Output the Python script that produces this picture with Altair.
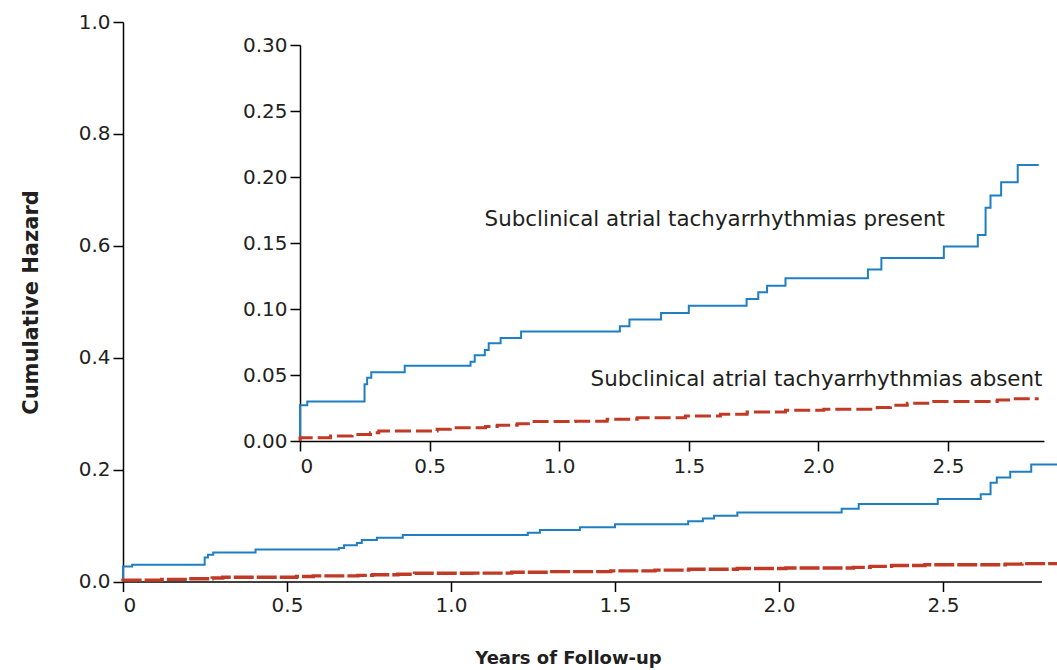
import altair as alt
import pandas as pd

# Cumulative hazard step curves (years of follow-up, cumulative hazard)
present_t = [0, 0, 0.028, 0.249, 0.259, 0.275, 0.404, 0.658, 0.674, 0.713, 0.728,
             0.774, 0.853, 1.234, 1.271, 1.393, 1.50, 1.723, 1.768, 1.802, 1.873,
             2.191, 2.243, 2.484, 2.615, 2.645, 2.664, 2.705, 2.769, 2.85]
present_h = [0, 0.027, 0.030, 0.043, 0.048, 0.052, 0.057, 0.060, 0.065, 0.069, 0.074,
             0.078, 0.083, 0.087, 0.092, 0.097, 0.1025, 0.1076, 0.1127, 0.1177, 0.1233,
             0.130, 0.1387, 0.1473, 0.156, 0.1767, 0.186, 0.196, 0.209, 0.209]

absent_t = [0, 0, 0.118, 0.201, 0.272, 0.304, 0.529, 0.58, 0.716, 0.761, 0.838,
            0.889, 1.063, 1.185, 1.301, 1.487, 1.622, 1.725, 1.873, 2.021, 2.227,
            2.278, 2.343, 2.445, 2.69, 2.741, 2.85]
absent_h = [0, 0.0025, 0.0038, 0.005, 0.0063, 0.0076, 0.0089, 0.0101, 0.011, 0.012, 0.013,
            0.0147, 0.015, 0.0165, 0.0177, 0.019, 0.0203, 0.022, 0.0233, 0.024, 0.0253,
            0.027, 0.0286, 0.0299, 0.031, 0.032, 0.032]

main_y_ticks = [0, 0.2, 0.4, 0.6, 0.8, 1.0]
inset_y_ticks = [0, 0.05, 0.10, 0.15, 0.20, 0.25, 0.30]
x_ticks = [0, 0.5, 1.0, 1.5, 2.0, 2.5]

label_present = "Subclinical atrial tachyarrhythmias present"
label_absent = "Subclinical atrial tachyarrhythmias absent"

BLUE = "#1f7fc2"
RED = "#c13a26"
FONT = "DejaVu Sans"
TEXT = "#231f20"

present = pd.DataFrame({"t": present_t, "h": present_h, "i": range(len(present_t))})
absent = pd.DataFrame({"t": absent_t, "h": absent_h, "i": range(len(absent_t))})

W, H = 918.4, 559.5

x_lab = "datum.value == 0 ? '0' : format(datum.value, '.1f')"

# main panel scales
main_xs = alt.Scale(domain=[0, 2.80], nice=False, zero=False)
main_ys = alt.Scale(domain=[0, 1.0], nice=False)
# inset panel scales, placed inside the main plot area
inset_xs = alt.Scale(domain=[0, 2.87], range=[177, 920.9], nice=False, zero=False)
inset_ys = alt.Scale(domain=[0, 0.30], range=[419, 23], nice=False)

axis_style = dict(domainColor="black", domainWidth=1.5, tickColor="black", tickWidth=1.5,
                  tickSize=10, labelFont=FONT, labelFontSize=20, labelColor=TEXT, grid=False)

main_x_axis = alt.Axis(orient="bottom", values=x_ticks, labelExpr=x_lab, labelPadding=4,
                       title="Years of Follow-up", titleFont=FONT, titleFontSize=18,
                       titleFontWeight="bold", titleColor=TEXT, titleX=445, titleY=81.5,
                       titleBaseline="alphabetic", **axis_style)
main_y_axis = alt.Axis(orient="left", values=main_y_ticks, format=".1f", labelPadding=3,
                       title="Cumulative Hazard", titleFont=FONT, titleFontSize=21,
                       titleFontWeight="bold", titleColor=TEXT, titleX=-86, titleY=280,
                       titleBaseline="alphabetic", **axis_style)
inset_x_axis = alt.Axis(orient="bottom", values=x_ticks, labelExpr=x_lab, labelPadding=5,
                        offset=-140.5, title=None, **axis_style)
inset_y_axis = alt.Axis(orient="left", values=inset_y_ticks, format=".2f", labelPadding=3,
                        offset=-177, title=None, **axis_style)


def curve(df, xs, ys, color, width, dash=None, xaxis=None, yaxis=None):
    kw = dict(interpolate="step-after", color=color, strokeWidth=width)
    if dash:
        kw["strokeDash"] = dash
    return alt.Chart(df).mark_line(**kw).encode(
        x=alt.X("t:Q", scale=xs, axis=xaxis),
        y=alt.Y("h:Q", scale=ys, axis=yaxis),
        order="i:Q",
    )


def label(text, t, h):
    df = pd.DataFrame({"t": [t], "h": [h], "s": [text]})
    return alt.Chart(df).mark_text(align="left", baseline="middle", font=FONT,
                                   fontSize=21.4, color=TEXT).encode(
        x=alt.X("t:Q", scale=inset_xs, axis=None),
        y=alt.Y("h:Q", scale=inset_ys, axis=None),
        text="s:N",
    )


layers = [
    curve(present, main_xs, main_ys, BLUE, 2, xaxis=main_x_axis, yaxis=main_y_axis),
    curve(absent, main_xs, main_ys, RED, 3.4, dash=[20, 3]),
    curve(present, inset_xs, inset_ys, BLUE, 2, xaxis=inset_x_axis, yaxis=inset_y_axis),
    curve(absent, inset_xs, inset_ys, RED, 3, dash=[16, 5]),
    label(label_present, 0.712, 0.1674),
    label(label_absent, 1.121, 0.0462),
]

chart = alt.layer(*layers).resolve_scale(x="independent", y="independent").properties(
    width=W, height=H,
    autosize=alt.AutoSizeParams(type="none"),
    padding={"left": 123, "top": 22, "right": 1057 - 123 - W, "bottom": 670 - 22 - H},
    background="white",
).configure_view(stroke=None)

chart.save("out.html", embed_options={"renderer": "svg", "actions": False})
